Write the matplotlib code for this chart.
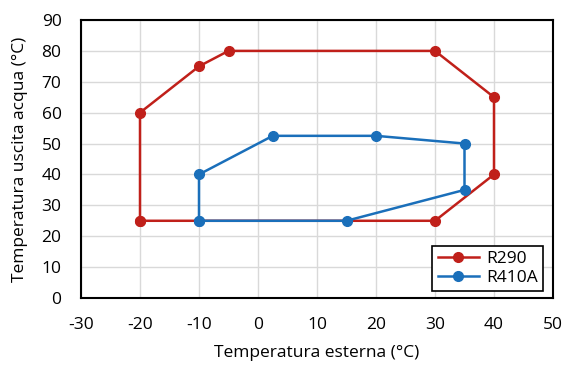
import matplotlib.pyplot as plt

# dati
r290_x = [-20, -20, -10, -5, 30, 40, 40, 30, -20]
r290_y = [25, 60, 75, 80, 80, 65, 40, 25, 25]
r410a_x = [-10, -10, 2.5, 20, 35, 35, 15, -10]
r410a_y = [25, 40, 52.5, 52.5, 50, 35, 25, 25]

plt.rcParams['font.family'] = ['Open Sans', 'DejaVu Sans']
plt.rcParams['font.size'] = 12.5
plt.rcParams['axes.unicode_minus'] = False

fig = plt.figure(figsize=(5.78, 3.67), dpi=100)
ax = fig.add_axes([81/578, 1-298/367, (553-81)/578, (298-20)/367])

ax.plot(r290_x, r290_y, color='#C0201A', marker='o', markersize=7, linewidth=1.8, label='R290')
ax.plot(r410a_x, r410a_y, color='#1A6FBA', marker='o', markersize=7, linewidth=1.8, label='R410A')

ax.set_xlim(-30, 50)
ax.set_ylim(0, 90)
ax.set_xticks(range(-30, 51, 10))
ax.set_yticks(range(0, 91, 10))
ax.grid(True, color='#D9D9D9', linewidth=1)
ax.set_axisbelow(True)
ax.tick_params(axis='x', length=0, pad=14)
ax.tick_params(axis='y', length=0, pad=14)
for s in ax.spines.values():
    s.set_linewidth(1.5)
    s.set_color('black')

ax.set_xlabel('Temperatura esterna (°C)', labelpad=8)
ax.set_ylabel('Temperatura uscita acqua (°C)', labelpad=10)

leg = ax.legend(loc='lower right', fancybox=False, edgecolor='black', framealpha=1,
                borderpad=0.3, handlelength=2.4, handletextpad=0.4, labelspacing=0.15,
                borderaxespad=0, bbox_to_anchor=(0.979, 0.025))
leg.get_frame().set_linewidth(1.2)

fig.savefig('out.png', dpi=100)
